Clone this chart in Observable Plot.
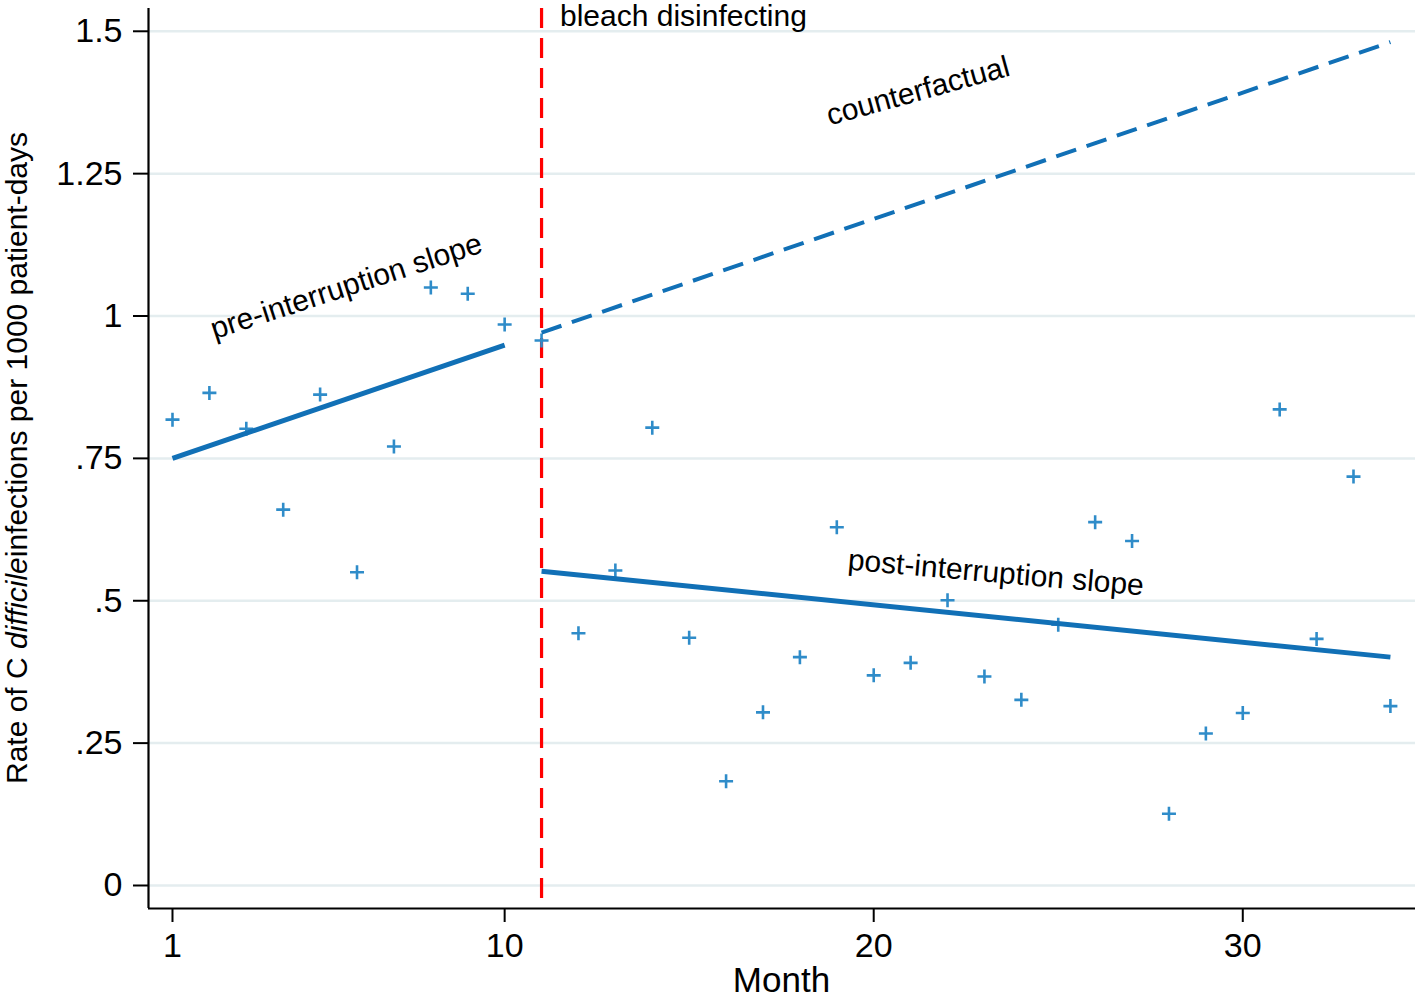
<!DOCTYPE html>
<html>
<head>
<meta charset="utf-8">
<script src="https://cdn.jsdelivr.net/npm/d3@7"></script>
<script src="https://cdn.jsdelivr.net/npm/@observablehq/plot@0.6"></script>
<style>
  html, body { margin: 0; padding: 0; background: #fff; }
  #chart svg { display: block; }
</style>
</head>
<body>
<div id="chart"></div>
<script>
// ---- data ----
const months = [1,2,3,4,5,6,7,8,9,10,11,12,13,14,15,16,17,18,19,20,21,22,23,24,25,26,27,28,29,30,31,32,33,34];
const rates  = [0.818,0.865,0.802,0.660,0.862,0.550,0.771,1.050,1.039,0.985,0.957,
                0.443,0.553,0.804,0.435,0.183,0.304,0.401,0.629,0.369,0.391,0.501,0.367,
                0.326,0.458,0.638,0.605,0.126,0.267,0.303,0.836,0.433,0.718,0.315];

const preMonths  = [1, 10];
const preValues  = [0.750, 0.949];
const postMonths = [11, 34];
const postValues = [0.552, 0.401];
const cfMonths   = [11, 34];
const cfValues   = [0.971, 1.481];

const interruptionMonth = 11;

const xTicks = [1, 10, 20, 30];
const yTicks = [0, 0.25, 0.5, 0.75, 1, 1.25, 1.5];
const yTickLabels = ["0", ".25", ".5", ".75", "1", "1.25", "1.5"];

const annotations = [
  {x: 11.5,  y: 1.526, text: "bleach disinfecting",     rotate: 0,   anchor: "start"},
  {x: 21.20, y: 1.395, text: "counterfactual",          rotate: -15.5, anchor: "middle"},
  {x: 5.71,  y: 1.052, text: "pre-interruption slope",  rotate: -18, anchor: "middle"},
  {x: 23.31, y: 0.549, text: "post-interruption slope", rotate: 5,   anchor: "middle"}
];

const xLabel = "Month";
const yLabelParts = [
  {text: "Rate of C ", italic: false},
  {text: "difficile", italic: true},
  {text: "infections per 1000 patient-days", italic: false}
];

// ---- build ----
const points = months.map((m, i) => ({month: m, rate: rates[i]}));
const pre  = preMonths.map((m, i) => ({month: m, rate: preValues[i]}));
const post = postMonths.map((m, i) => ({month: m, rate: postValues[i]}));
const cf   = cfMonths.map((m, i) => ({month: m, rate: cfValues[i]}));
const yLabelFor = new Map(yTicks.map((t, i) => [t, yTickLabels[i]]));

const xDomain = [0.35, 34.68];
const yDomain = [-0.0404, 1.540];

const plusSymbol = {
  draw(context, size) {
    const r = Math.sqrt(size / Math.PI);
    context.moveTo(-r, 0); context.lineTo(r, 0);
    context.moveTo(0, -r); context.lineTo(0, r);
  }
};

const lineColor = "#1170b6";
const pointColor = "#2f8cc9";
const font = "'Liberation Sans', Arial, Helvetica, sans-serif";

const chart = Plot.plot({
  width: 1418,
  height: 1002,
  marginLeft: 148,
  marginRight: 3,
  marginTop: 8,
  marginBottom: 94,
  style: {fontFamily: font, fontSize: "34px", color: "#000", background: "#fff"},
  x: {domain: xDomain},
  y: {domain: yDomain},
  marks: [
    Plot.ruleY(yTicks, {stroke: "#e4edef", strokeWidth: 2.5}),
    Plot.axisY({ticks: yTicks, tickFormat: d => yLabelFor.get(d), tickSize: 15, tickPadding: 11,
                strokeWidth: 2, label: null, fontSize: 34}),
    Plot.axisX({ticks: xTicks, tickFormat: d => String(d), tickSize: 14, tickPadding: 10,
                strokeWidth: 2, label: null, fontSize: 34}),
    Plot.ruleX([xDomain[0]], {stroke: "#000", strokeWidth: 2.2}),
    Plot.ruleY([yDomain[0]], {stroke: "#000", strokeWidth: 2.2}),
    Plot.ruleX([interruptionMonth], {stroke: "#ff0000", strokeWidth: 3.2, strokeDasharray: "20,10"}),
    Plot.dot(points, {x: "month", y: "rate", symbol: plusSymbol, r: 7, fill: "none",
                      stroke: pointColor, strokeWidth: 2.6}),
    Plot.line(pre,  {x: "month", y: "rate", stroke: lineColor, strokeWidth: 5, strokeLinecap: "butt"}),
    Plot.line(post, {x: "month", y: "rate", stroke: lineColor, strokeWidth: 5, strokeLinecap: "butt"}),
    Plot.line(cf,   {x: "month", y: "rate", stroke: lineColor, strokeWidth: 4, strokeDasharray: "21,11", strokeLinecap: "butt"}),
    ...annotations.map(a => Plot.text([a], {
      x: "x", y: "y", text: "text", rotate: a.rotate, textAnchor: a.anchor,
      lineAnchor: "middle", fontSize: 30, fill: "#000"
    }))
  ]
});

document.getElementById("chart").appendChild(chart);

const svg = d3.select(chart);
// x label
svg.append("text")
  .attr("x", (148 + 1415) / 2)
  .attr("y", 992)
  .attr("text-anchor", "middle")
  .attr("font-family", font)
  .attr("font-size", 35)
  .attr("fill", "#000")
  .text(xLabel);
// y label with italic part
const yl = svg.append("text")
  .attr("transform", `translate(27, ${(8 + 908) / 2}) rotate(-90)`)
  .attr("text-anchor", "middle")
  .attr("font-family", font)
  .attr("font-size", 30)
  .attr("fill", "#000");
yLabelParts.forEach(p => {
  yl.append("tspan").attr("font-style", p.italic ? "italic" : "normal").text(p.text);
});
</script>
</body>
</html>
